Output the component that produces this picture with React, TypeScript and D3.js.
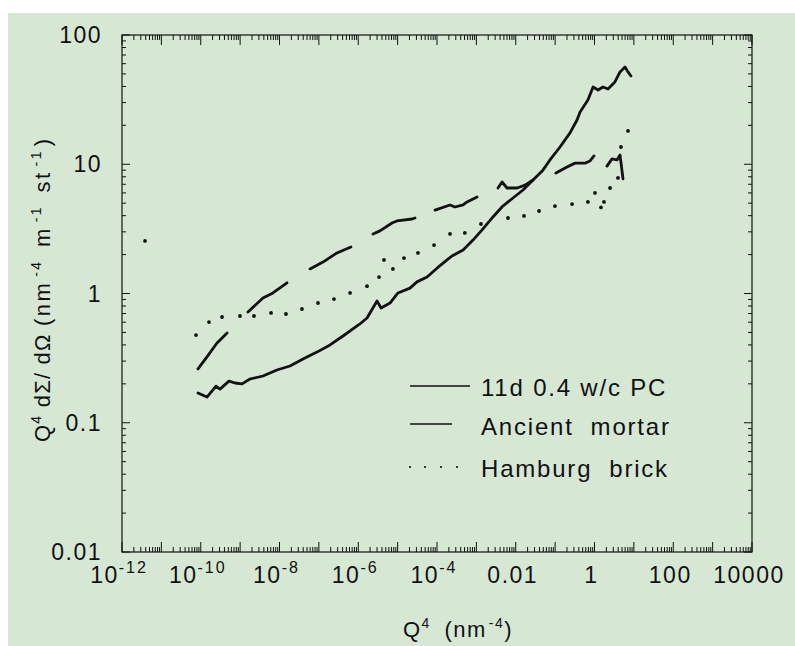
import React from "react";
import * as d3 from "d3";

// 11d 0.4 w/c PC (solid)
const pcQ4 = [8.5e-11, 1.44e-10, 2.44e-10, 3.08e-10, 5.2e-10, 7.4e-10, 1.12e-9, 1.78e-9, 3.8e-9, 8.6e-9, 1.85e-8, 3.95e-8, 8.95e-8, 1.92e-7, 4.1e-7, 1.1e-6, 1.67e-6, 3.0e-6, 3.8e-6, 6.4e-6, 1.02e-5, 2.06e-5, 3.1e-5, 5.6e-5, 1e-4, 1.8e-4, 2.4e-4, 4.6e-4, 8.2e-4, 1.47e-3, 2.64e-3, 4.7e-3, 8.5e-3, 0.0153, 0.0274, 0.049, 0.074, 0.133, 0.239, 0.36, 0.43, 0.68, 0.92, 1.23, 1.64, 2.2, 3.3, 4.45, 5.95, 7.1, 8.45];
const pcI = [0.17, 0.158, 0.192, 0.182, 0.21, 0.203, 0.2, 0.218, 0.23, 0.256, 0.275, 0.311, 0.352, 0.4, 0.469, 0.581, 0.646, 0.875, 0.773, 0.843, 1.01, 1.1, 1.23, 1.34, 1.57, 1.82, 1.95, 2.17, 2.59, 3.16, 3.91, 4.75, 5.48, 6.32, 7.55, 9.0, 10.8, 13.6, 17.5, 22.0, 25.4, 31.4, 39.6, 37.5, 39.6, 38.2, 43.3, 51.8, 56.5, 51.8, 48.2];

// Ancient mortar (long dash; null = pen lifted between dashes)
const mortarQ4 = [8.5e-11, 1.44e-10, 2.59e-10, 4.65e-10, 8.3e-10, 1.58e-9, 3.8e-9, 6.8e-9, 1.55e-8, 2.95e-8, 5.96e-8, 1.27e-7, 2.88e-7, 6.5e-7, 1.24e-6, 2.37e-6, 3.56e-6, 7.2e-6, 9.6e-6, 2.32e-5, 2.76e-5, 4.95e-5, 8.9e-5, 2.14e-4, 2.86e-4, 4.6e-4, 5.8e-4, 1.04e-3, 1.97e-3, 3.54e-3, 4.48e-3, 6.0e-3, 0.0108, 0.0172, 0.0274, 0.0553, 0.105, 0.2, 0.32, 0.574, 0.77, 0.97, 1.46, 2.07, 2.78, 3.72, 4.45, 5.3];
const mortarI = [0.261, 0.323, 0.414, 0.494, null, 0.719, 0.923, 1.01, 1.21, null, 1.55, 1.75, 2.06, 2.29, null, 2.89, 3.05, 3.51, 3.64, 3.77, 3.84, null, 4.42, 4.84, 4.67, 4.84, 5.11, 5.59, null, 6.55, 7.29, 6.55, 6.55, 6.9, 7.55, null, 8.55, 9.53, 10.2, 10.2, 10.6, 11.6, null, 9.68, 11.0, 10.8, 11.8, 7.7];

// Hamburg brick (dotted)
const brickQ4 = [3.84e-12, 7.57e-11, 1.62e-10, 3.47e-10, 9.9e-10, 2.25e-9, 6.1e-9, 1.46e-8, 3.72e-8, 9.5e-8, 2.42e-7, 6.2e-7, 1.67e-6, 3.37e-6, 4.5e-6, 7.6e-6, 1.45e-5, 3.29e-5, 8.4e-5, 2.14e-4, 5.1e-4, 1.31e-3, 6.35e-3, 0.0162, 0.039, 0.099, 0.269, 0.68, 1.03, 1.46, 1.74, 2.48, 3.95, 4.7, 7.1];
const brickI = [2.55, 0.477, 0.601, 0.658, 0.67, 0.67, 0.707, 0.694, 0.759, 0.844, 0.906, 1.01, 1.14, 1.34, 1.82, 1.55, 1.88, 2.06, 2.37, 2.89, 2.94, 3.45, 3.84, 3.98, 4.35, 4.75, 4.92, 5.11, 6.0, 4.63, 5.11, 6.55, 7.84, 13.6, 18.1];

const xTicks = [
  { v: 1e-12, base: "10", sup: "-12" },
  { v: 1e-10, base: "10", sup: "-10" },
  { v: 1e-8, base: "10", sup: "-8" },
  { v: 1e-6, base: "10", sup: "-6" },
  { v: 1e-4, base: "10", sup: "-4" },
  { v: 0.01, base: "0.01", sup: "" },
  { v: 1, base: "1", sup: "" },
  { v: 100, base: "100", sup: "" },
  { v: 10000, base: "10000", sup: "" },
];
const yTicks = [0.01, 0.1, 1, 10, 100];
const yTickLabels = ["0.01", "0.1", "1", "10", "100"];
const legendLabels = ["11d 0.4 w/c PC", "Ancient  mortar", "Hamburg  brick"];

const font = "'Liberation Sans', Arial, Helvetica, sans-serif";
const ink = "#111";

export default function App() {
  const width = 795;
  const height = 646;
  const left = 122, right = 752, top = 35, bottom = 552;

  const x = d3.scaleLog().domain([1e-12, 1e4]).range([left, right]);
  const y = d3.scaleLog().domain([0.01, 100]).range([bottom, top]);

  const line = d3
    .line<[number, number | null]>()
    .defined((d) => d[1] != null)
    .x((d) => x(d[0]))
    .y((d) => y(d[1] as number));

  const pc = pcQ4.map((q, i) => [q, pcI[i]] as [number, number]);
  const mortar = mortarQ4.map((q, i) => [q, mortarI[i]] as [number, number | null]);
  const brick = brickQ4.map((q, i) => ({ q, v: brickI[i] }));

  // decade + minor ticks
  const xMajor = d3.range(-12, 5).map((k) => Math.pow(10, k));
  const xMinor: number[] = [];
  d3.range(-12, 4).forEach((k) => d3.range(2, 10).forEach((m) => xMinor.push(m * Math.pow(10, k))));
  const yMajor = d3.range(-2, 3).map((k) => Math.pow(10, k));
  const yMinor: number[] = [];
  d3.range(-2, 2).forEach((k) => d3.range(2, 10).forEach((m) => yMinor.push(m * Math.pow(10, k))));

  return (
    <svg
      width={width}
      height={height}
      style={{ position: "absolute", left: 0, top: 0 }}
      fontFamily={font}
    >
      <rect x={0} y={0} width={width} height={height} fill="#fff" />
      <rect x={8} y={13} width={width - 8} height={height - 13} fill="#d6e8d4" />

      {/* frame */}
      <rect x={left} y={top} width={right - left} height={bottom - top} fill="none" stroke={ink} strokeWidth={1.2} />

      {/* ticks, all inward */}
      <g stroke={ink} strokeWidth={1}>
        {xMajor.map((v, i) => (
          <g key={"xM" + i}>
            <line x1={x(v)} x2={x(v)} y1={bottom} y2={bottom - 10} />
            <line x1={x(v)} x2={x(v)} y1={top} y2={top + 10} />
          </g>
        ))}
        {xMinor.map((v, i) => (
          <g key={"xm" + i}>
            <line x1={x(v)} x2={x(v)} y1={bottom} y2={bottom - 5} />
            <line x1={x(v)} x2={x(v)} y1={top} y2={top + 5} />
          </g>
        ))}
        {yMajor.map((v, i) => (
          <g key={"yM" + i}>
            <line x1={left} x2={left + 8} y1={y(v)} y2={y(v)} />
            <line x1={right} x2={right - 8} y1={y(v)} y2={y(v)} />
          </g>
        ))}
        {yMinor.map((v, i) => (
          <g key={"ym" + i}>
            <line x1={left} x2={left + 4} y1={y(v)} y2={y(v)} />
            <line x1={right} x2={right - 4} y1={y(v)} y2={y(v)} />
          </g>
        ))}
      </g>

      {/* tick labels */}
      <g fill={ink} fontSize={23} letterSpacing={1.5}>
        {yTicks.map((v, i) => (
          <text key={"yl" + i} x={102} y={y(v) + 8} textAnchor="end">
            {yTickLabels[i]}
          </text>
        ))}
        {xTicks.map((t, i) => (
          <text key={"xl" + i} x={x(t.v) - 3} y={583} textAnchor="middle">
            <tspan>{t.base}</tspan>
            {t.sup && (
              <tspan dy={-10} fontSize={16} letterSpacing={2}>
                {t.sup}
              </tspan>
            )}
          </text>
        ))}
      </g>

      {/* axis titles */}
      <text x={458} y={637} textAnchor="middle" fontSize={22} letterSpacing={1.5} fill={ink}>
        <tspan>Q</tspan>
        <tspan dy={-9} fontSize={14}>4</tspan>
        <tspan dy={9} dx={6}> (nm</tspan>
        <tspan dy={-9} dx={2} fontSize={14}>-4</tspan>
        <tspan dy={9}>)</tspan>
      </text>
      <text
        transform="translate(50,290) rotate(-90)"
        textAnchor="middle"
        fontSize={22}
        letterSpacing={0.8}
        textLength={304}
        lengthAdjust="spacing"
        fill={ink}
      >
        <tspan>Q</tspan>
        <tspan dy={-9} fontSize={14}>4</tspan>
        <tspan dy={9}> dΣ/ dΩ </tspan>
        <tspan letterSpacing={2}>(nm</tspan>
        <tspan dy={-9} dx={4} fontSize={14} letterSpacing={2}>-4</tspan>
        <tspan dy={9} dx={4} letterSpacing={2}> m</tspan>
        <tspan dy={-9} dx={4} fontSize={14} letterSpacing={2}>-1</tspan>
        <tspan dy={9} dx={4} letterSpacing={2}> st</tspan>
        <tspan dy={-9} dx={4} fontSize={14} letterSpacing={2}>-1</tspan>
        <tspan dy={9} dx={3}>)</tspan>
      </text>

      {/* curves */}
      <path d={line(pc) ?? ""} fill="none" stroke={ink} strokeWidth={2.8} strokeLinejoin="round" strokeLinecap="round" />
      <path d={line(mortar) ?? ""} fill="none" stroke={ink} strokeWidth={2.8} strokeLinejoin="round" strokeLinecap="round" />
      {brick.map((d, i) => (
        <circle key={"b" + i} cx={x(d.q)} cy={y(d.v)} r={1.9} fill={ink} />
      ))}

      {/* legend */}
      <g fill={ink} fontSize={24} letterSpacing={1.8}>
        <line x1={410} x2={470} y1={386} y2={386} stroke={ink} strokeWidth={1.6} />
        <text x={481} y={396} xmlSpace="preserve" style={{ whiteSpace: "pre" }}>{legendLabels[0]}</text>
        <line x1={410} x2={452} y1={424} y2={424} stroke={ink} strokeWidth={1.6} />
        <text x={481} y={435} xmlSpace="preserve" style={{ whiteSpace: "pre" }}>{legendLabels[1]}</text>
        {[410, 425, 441, 457].map((cx, i) => (
          <circle key={"ld" + i} cx={cx} cy={467} r={1.1} />
        ))}
        <text x={481} y={477} xmlSpace="preserve" style={{ whiteSpace: "pre" }}>{legendLabels[2]}</text>
      </g>
    </svg>
  );
}
